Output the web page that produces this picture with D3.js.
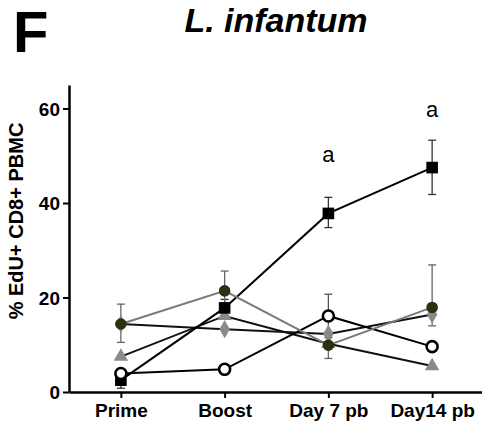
<!DOCTYPE html>
<html>
<head>
<meta charset="utf-8">
<script src="https://cdn.jsdelivr.net/npm/d3@7"></script>
<style>
  body { margin: 0; background: #fff; }
  text { font-family: "Liberation Sans", Arial, sans-serif; }
</style>
</head>
<body>
<div id="chart"></div>
<script>
var w = 482;
var h = 426;

var categories = ["Prime", "Boost", "Day 7 pb", "Day14 pb"];
var yTicks = [0, 20, 40, 60];

// mean values
var squareVals   = [2.5, 17.8, 37.8, 47.5];
var openVals     = [3.9, 4.8, 16.1, 9.6];
var oliveVals    = [14.4, 21.4, 9.9, 17.9];
var diamondVals  = [14.4, 13.3, 12.3, 16.4];
var triangleVals = [7.5, 16.1, 10.2, 5.5];

// error bar ends [low, high], null = not visible
var squareErr = [[0.8, 4.2], [16, 19.6], [34.8, 41.2], [41.8, 53.3]];
var oliveErr  = [[10.5, 18.6], [17.5, 25.6], [7.1, 12.7], [14.0, 26.9]];
var openErr   = [null, null, [11.5, 20.7], null];

var sigLabels = [null, null, "a", "a"];
var sigPos = [null, null, 48.7, 58.3];

var x = d3.scalePoint().domain(categories).range([69, 484]).padding(0.5);
var y = d3.scaleLinear().domain([0, 65]).range([392, 84.9]);

var svg = d3.select("#chart").append("svg")
  .attr("width", w)
  .attr("height", h);

// panel letter and title
svg.append("text").attr("x", 13).attr("y", 52)
  .style("font-size", "58px").style("font-weight", "bold").text("F");
svg.append("text").attr("x", 276).attr("y", 32)
  .attr("text-anchor", "middle")
  .style("font-size", "34px").style("font-weight", "bold").style("font-style", "italic")
  .text("L. infantum");

// axes
var yAxis = svg.append("g").attr("transform", "translate(69,0)")
  .call(d3.axisLeft(y).tickValues(yTicks).tickSize(6).tickSizeOuter(0).tickPadding(3));
yAxis.select(".domain").attr("stroke-width", 2.5);
yAxis.selectAll(".tick line").attr("stroke-width", 2);
yAxis.selectAll("text").style("font-size", "19px").style("font-weight", "bold")
  .attr("dy", "0.36em").attr("fill", "#000");

var xAxis = svg.append("g").attr("transform", "translate(0,392)")
  .call(d3.axisBottom(x).tickSize(6).tickSizeOuter(0).tickPadding(6));
xAxis.select(".domain").attr("stroke-width", 2.5);
xAxis.selectAll(".tick line").attr("stroke-width", 2);
xAxis.selectAll("text").style("font-size", "19px").style("font-weight", "bold")
  .attr("fill", "#000");

svg.append("text")
  .attr("transform", "translate(22.5,221) rotate(-90)")
  .attr("text-anchor", "middle")
  .style("font-size", "20px").style("font-weight", "bold")
  .text("% EdU+ CD8+ PBMC");

var series = [
  { vals: triangleVals, line: "#111", shape: "triangle", fill: "#8a8a8a", size: 90 },
  { vals: diamondVals, line: "#111", shape: "diamond", fill: "#8a8a8a", size: 95 },
  { vals: squareVals, line: "#000", shape: "square", fill: "#000", size: 135, err: squareErr, errColor: "#333" },
  { vals: openVals, line: "#000", shape: "open", fill: "#fff", size: 0, err: openErr, errColor: "#555" },
  { vals: oliveVals, line: "#7a7a7a", shape: "circle", fill: "#2e2e10", size: 105, err: oliveErr, errColor: "#666" }
];

var line = d3.line()
  .x(function (d, i) { return x(categories[i]); })
  .y(function (d) { return y(d); });

// lines first
series.forEach(function (s) {
  svg.append("path")
    .datum(s.vals)
    .attr("d", line)
    .attr("fill", "none")
    .attr("stroke", s.line)
    .attr("stroke-width", 2);
});

// error bars
series.forEach(function (s) {
  if (!s.err) return;
  s.err.forEach(function (e, i) {
    if (!e) return;
    var cx = x(categories[i]);
    var g = svg.append("g").attr("stroke", s.errColor).attr("stroke-width", 1.3);
    g.append("line").attr("x1", cx).attr("x2", cx).attr("y1", y(e[0])).attr("y2", y(e[1]));
    g.append("line").attr("x1", cx - 4).attr("x2", cx + 4).attr("y1", y(e[0])).attr("y2", y(e[0]));
    g.append("line").attr("x1", cx - 4).attr("x2", cx + 4).attr("y1", y(e[1])).attr("y2", y(e[1]));
  });
});

// markers
series.forEach(function (s) {
  var g = svg.append("g");
  s.vals.forEach(function (v, i) {
    var cx = x(categories[i]);
    var cy = y(v);
    if (s.shape == "open") {
      g.append("circle").attr("cx", cx).attr("cy", cy).attr("r", 5.5)
        .attr("fill", "#fff").attr("stroke", "#000").attr("stroke-width", 2.6);
    } else {
      var type = {
        triangle: d3.symbolTriangle,
        diamond: d3.symbolDiamond,
        square: d3.symbolSquare,
        circle: d3.symbolCircle
      }[s.shape];
      g.append("path")
        .attr("transform", "translate(" + cx + "," + cy + ")")
        .attr("d", d3.symbol().type(type).size(s.size)())
        .attr("fill", s.fill);
    }
  });
});

// significance letters
sigLabels.forEach(function (t, i) {
  if (!t) return;
  svg.append("text")
    .attr("x", x(categories[i]))
    .attr("y", y(sigPos[i]))
    .attr("text-anchor", "middle")
    .style("font-size", "22px")
    .text(t);
});
</script>
</body>
</html>
